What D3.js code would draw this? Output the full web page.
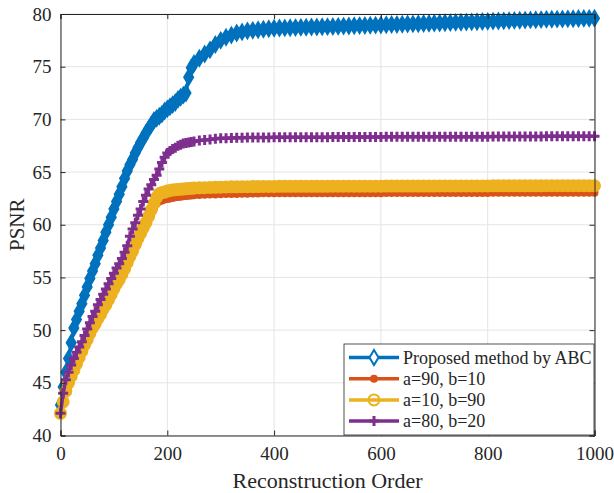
<!DOCTYPE html>
<html>
<head>
<meta charset="utf-8">
<script src="https://cdn.jsdelivr.net/npm/d3@7"></script>
<style>
  body { margin: 0; background: #fff; }
  svg { display: block; }
  text { font-family: "Liberation Serif", "Times New Roman", serif; fill: #262626; }
</style>
</head>
<body>
<svg id="chart" width="614" height="493"></svg>
<script>
// Reconstruction order (x values)
const order = [
  0, 5, 10, 15, 20, 25, 30, 35, 40, 45, 50, 55, 60, 65, 70, 75, 80, 85, 90, 95,
  100, 105, 110, 115, 120, 125, 130, 135, 140, 145, 150, 155, 160, 165, 170, 175, 180, 185, 190, 195,
  200, 205, 210, 215, 220, 225, 230, 235, 240, 245, 250,
  260, 270, 280, 290, 300, 310, 320, 330, 340, 350, 360, 370, 380, 390, 400,
  410, 420, 430, 440, 450, 460, 470, 480, 490, 500, 510, 520, 530, 540, 550, 560, 570, 580, 590, 600,
  610, 620, 630, 640, 650, 660, 670, 680, 690, 700, 710, 720, 730, 740, 750, 760, 770, 780, 790, 800,
  810, 820, 830, 840, 850, 860, 870, 880, 890, 900, 910, 920, 930, 940, 950, 960, 970, 980, 990, 1000
];

const psnrABC = [
  42.9, 44.6, 46.0, 47.3, 48.8, 50.2, 51.0, 51.8, 52.5, 53.3, 54.1, 54.9, 55.6, 56.3, 57.1, 57.8, 58.5, 59.3, 60.0, 60.7,
  61.5, 62.2, 62.9, 63.6, 64.4, 65.1, 65.7, 66.2, 66.8, 67.3, 67.8, 68.2, 68.7, 69.1, 69.5, 69.9, 70.1, 70.3, 70.5, 70.8,
  71.0, 71.2, 71.4, 71.6, 71.9, 72.1, 72.3, 72.5, 74.0, 74.9, 75.3,
  75.8, 76.2, 76.6, 77.1, 77.5, 77.8, 78.0, 78.2, 78.3, 78.4, 78.45, 78.5, 78.55, 78.6, 78.65,
  78.67, 78.68, 78.70, 78.71, 78.73, 78.74, 78.76, 78.77, 78.79, 78.80, 78.82, 78.83, 78.85, 78.86, 78.88, 78.90, 78.91, 78.93, 78.94, 78.96,
  78.98, 79.00, 79.01, 79.03, 79.05, 79.06, 79.08, 79.10, 79.11, 79.13, 79.15, 79.17, 79.18, 79.20, 79.22, 79.23, 79.25, 79.27, 79.29, 79.30,
  79.32, 79.34, 79.35, 79.37, 79.39, 79.41, 79.42, 79.44, 79.46, 79.47, 79.49, 79.50, 79.51, 79.53, 79.54, 79.55, 79.57, 79.58, 79.59, 79.60
];

const psnrA90 = [
  42.0, 43.0, 44.0, 44.7, 45.4, 46.0, 46.6, 47.2, 47.8, 48.4, 48.9, 49.5, 50.0, 50.5, 50.9, 51.4, 51.8, 52.3, 52.8, 53.2,
  53.7, 54.2, 54.6, 55.1, 55.6, 56.1, 56.7, 57.2, 57.8, 58.3, 58.9, 59.4, 59.9, 60.5, 61.0, 61.6, 62.0, 62.2, 62.3, 62.4,
  62.45, 62.5, 62.55, 62.6, 62.63, 62.66, 62.7, 62.72, 62.75, 62.77, 62.8,
  62.82, 62.84, 62.86, 62.88, 62.9, 62.91, 62.92, 62.93, 62.94, 62.95, 62.96, 62.97, 62.98, 62.99, 63.0,
  63.0, 63.0, 63.0, 63.0, 63.0, 63.0, 63.0, 63.0, 63.0, 63.0, 63.0, 63.0, 63.0, 63.0, 63.0, 63.0, 63.0, 63.0, 63.0, 63.0,
  63.02, 63.02, 63.02, 63.02, 63.02, 63.02, 63.02, 63.02, 63.02, 63.02, 63.02, 63.02, 63.02, 63.02, 63.02, 63.02, 63.02, 63.02, 63.02, 63.02,
  63.04, 63.04, 63.04, 63.04, 63.04, 63.04, 63.04, 63.04, 63.04, 63.04, 63.04, 63.04, 63.04, 63.04, 63.04, 63.04, 63.04, 63.04, 63.04, 63.04
];

const psnrA10 = [
  42.1, 43.2, 44.2, 45.0, 45.6, 46.2, 46.8, 47.4, 48.0, 48.6, 49.1, 49.7, 50.2, 50.6, 51.1, 51.5, 52.0, 52.4, 52.9, 53.4,
  53.9, 54.4, 54.8, 55.3, 55.8, 56.4, 57.0, 57.5, 58.1, 58.7, 59.2, 59.7, 60.2, 60.8, 61.4, 62.0, 62.6, 62.95, 63.05, 63.1,
  63.2, 63.25, 63.3, 63.32, 63.35, 63.38, 63.4, 63.42, 63.44, 63.46, 63.48,
  63.5, 63.52, 63.54, 63.55, 63.57, 63.58, 63.6, 63.6, 63.61, 63.61, 63.62, 63.62, 63.63, 63.63, 63.64,
  63.65, 63.65, 63.65, 63.65, 63.65, 63.65, 63.65, 63.65, 63.65, 63.65, 63.66, 63.66, 63.66, 63.66, 63.66, 63.66, 63.66, 63.66, 63.66, 63.66,
  63.67, 63.67, 63.67, 63.67, 63.67, 63.67, 63.67, 63.67, 63.67, 63.67, 63.68, 63.68, 63.68, 63.68, 63.68, 63.68, 63.68, 63.68, 63.68, 63.68,
  63.69, 63.69, 63.69, 63.69, 63.69, 63.69, 63.69, 63.69, 63.69, 63.69, 63.70, 63.70, 63.70, 63.70, 63.70, 63.70, 63.70, 63.70, 63.70, 63.70
];

const psnrA80 = [
  42.1, 44.0, 45.3, 46.0, 46.7, 47.3, 47.9, 48.4, 48.9, 49.5, 50.1, 50.7, 51.3, 51.8, 52.4, 52.9, 53.4, 53.9, 54.4, 54.9,
  55.4, 55.9, 56.3, 56.8, 57.4, 58.0, 58.9, 59.6, 60.2, 60.9, 61.5, 62.2, 62.8, 63.4, 63.8, 64.3, 64.7, 65.3, 65.9, 66.4,
  66.8, 67.0, 67.2, 67.3, 67.5, 67.6, 67.7, 67.75, 67.8, 67.85, 67.9,
  68.0, 68.05, 68.1, 68.15, 68.2, 68.22, 68.24, 68.25, 68.26, 68.27, 68.28, 68.28, 68.29, 68.29, 68.3,
  68.30, 68.30, 68.30, 68.30, 68.30, 68.30, 68.30, 68.30, 68.30, 68.30, 68.32, 68.32, 68.32, 68.32, 68.32, 68.32, 68.32, 68.32, 68.32, 68.32,
  68.34, 68.34, 68.34, 68.34, 68.34, 68.34, 68.34, 68.34, 68.34, 68.34, 68.36, 68.36, 68.36, 68.36, 68.36, 68.36, 68.36, 68.36, 68.36, 68.36,
  68.38, 68.38, 68.38, 68.38, 68.38, 68.38, 68.38, 68.38, 68.38, 68.38, 68.40, 68.40, 68.40, 68.40, 68.40, 68.40, 68.40, 68.40, 68.40, 68.40
];

const seriesNames = ['Proposed method by ABC', 'a=90, b=10', 'a=10, b=90', 'a=80, b=20'];
const xTicks = [0, 200, 400, 600, 800, 1000];
const yTicks = [40, 45, 50, 55, 60, 65, 70, 75, 80];

// MATLAB default colour order, one marker per series
const series = [
  {name: seriesNames[0], values: psnrABC, color: '#0072BD', marker: 'diamond'},
  {name: seriesNames[1], values: psnrA90, color: '#D95319', marker: 'dot'},
  {name: seriesNames[2], values: psnrA10, color: '#EDB120', marker: 'circle'},
  {name: seriesNames[3], values: psnrA80, color: '#7E2F8E', marker: 'plus'}
];

const serif = '"Liberation Serif", "Times New Roman", serif';

const margin = {top: 14, right: 19.5, bottom: 57.5, left: 60.5};
const width = 614 - margin.left - margin.right;
const height = 493 - margin.top - margin.bottom;

const svg = d3.select('#chart');
const chart = svg.append('g')
  .attr('transform', `translate(${margin.left}, ${margin.top})`);

const x = d3.scaleLinear().domain([0, 1000]).range([0, width]);
const y = d3.scaleLinear().domain([40, 80]).range([height, 0]);

// Grid
chart.append('g')
  .selectAll('line')
  .data(xTicks)
  .join('line')
  .attr('x1', d => x(d)).attr('x2', d => x(d))
  .attr('y1', 0).attr('y2', height)
  .attr('stroke', '#e4e4e4');

chart.append('g')
  .selectAll('line')
  .data(yTicks)
  .join('line')
  .attr('x1', 0).attr('x2', width)
  .attr('y1', d => y(d)).attr('y2', d => y(d))
  .attr('stroke', '#e4e4e4');

// Marker shapes; inPlot fills the open markers so dense runs read as a band
const markerPath = {
  diamond: 'M0,-7.5L4.5,0L0,7.5L-4.5,0Z',
  plus: 'M-5,0H5M0,-5V5'
};

function drawMarker(sel, s, inPlot) {
  if (s.marker === 'dot') {
    sel.append('circle').attr('r', 4).attr('fill', s.color);
  } else if (s.marker === 'circle') {
    sel.append('circle').attr('r', 5.5)
      .attr('fill', inPlot ? s.color : 'none').attr('stroke', s.color).attr('stroke-width', 2);
  } else if (s.marker === 'plus') {
    sel.append('path').attr('d', markerPath.plus)
      .attr('fill', 'none').attr('stroke', s.color).attr('stroke-width', 3);
  } else {
    sel.append('path').attr('d', markerPath.diamond)
      .attr('fill', inPlot ? s.color : '#fff').attr('stroke', s.color).attr('stroke-width', 2);
  }
}

const line = d3.line()
  .x(d => x(d[0]))
  .y(d => y(d[1]));

series.forEach(s => {
  const pts = order.map((o, i) => [o, s.values[i]]);
  const g = chart.append('g').attr('class', 'series');
  g.append('path')
    .datum(pts)
    .attr('fill', 'none')
    .attr('stroke', s.color)
    .attr('stroke-width', 3.5)
    .attr('stroke-linejoin', 'round')
    .attr('d', line);
  g.selectAll('g.mk')
    .data(pts)
    .join('g')
    .attr('class', 'mk')
    .attr('transform', d => `translate(${x(d[0])}, ${y(d[1])})`)
    .each(function () { drawMarker(d3.select(this), s, true); });
});

// Axes (ticks inward, box on)
const axisColor = '#262626';
const axes = [
  chart.append('g')
    .attr('transform', `translate(0, ${height})`)
    .call(d3.axisBottom(x).tickValues(xTicks).tickSize(-5).tickPadding(11).tickFormat(d3.format('d'))),
  chart.append('g')
    .call(d3.axisLeft(y).tickValues(yTicks).tickSize(-5).tickPadding(9)),
  chart.append('g')
    .call(d3.axisTop(x).tickValues(xTicks).tickSize(-5).tickFormat('')),
  chart.append('g')
    .attr('transform', `translate(${width}, 0)`)
    .call(d3.axisRight(y).tickValues(yTicks).tickSize(-5).tickFormat(''))
];
axes.forEach(a => a.attr('font-family', serif).attr('font-size', 19));

chart.selectAll('.domain, .tick line').attr('stroke', axisColor);
chart.selectAll('.tick text')
  .attr('fill', axisColor)
  .style('font-family', serif);

// Axis labels
svg.append('text')
  .attr('x', margin.left + width / 2)
  .attr('y', 488)
  .attr('text-anchor', 'middle')
  .style('font-size', '22px')
  .text('Reconstruction Order');

svg.append('text')
  .attr('transform', `translate(24, ${margin.top + height / 2}) rotate(-90)`)
  .attr('text-anchor', 'middle')
  .style('font-size', '21px')
  .text('PSNR');

// Legend
const legend = svg.append('g').attr('transform', 'translate(344, 344)');
legend.append('rect')
  .attr('width', 250).attr('height', 91)
  .attr('fill', '#fff')
  .attr('stroke', axisColor)
  .attr('stroke-width', 0.8);

const rows = legend.selectAll('g.row')
  .data(series)
  .join('g')
  .attr('class', 'row')
  .attr('transform', (d, i) => `translate(0, ${13.5 + i * 21.2})`);

rows.append('line')
  .attr('x1', 5).attr('x2', 55)
  .attr('stroke', d => d.color)
  .attr('stroke-width', 3.5);

rows.append('g')
  .attr('transform', 'translate(30, 0)')
  .each(function (d) { drawMarker(d3.select(this), d, false); });

rows.append('text')
  .attr('x', 59)
  .attr('y', 6)
  .style('font-size', '18px')
  .attr('fill', '#000')
  .text(d => d.name);
</script>
</body>
</html>
